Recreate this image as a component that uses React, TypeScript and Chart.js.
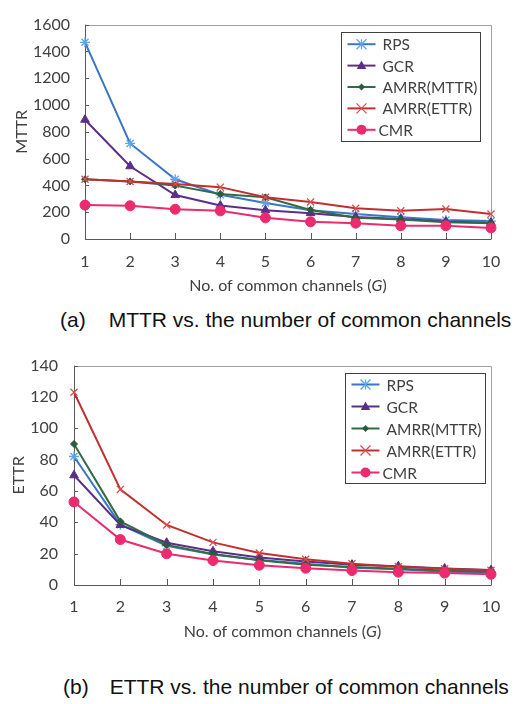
import React, { useEffect, useRef } from "react";
import { Chart, registerables } from "chart.js";

Chart.register(...registerables);

// ---------- data ----------
const CATEGORIES = ["1", "2", "3", "4", "5", "6", "7", "8", "9", "10"];
const SERIES_NAMES = ["RPS", "GCR", "AMRR(MTTR)", "AMRR(ETTR)", "CMR"];

const MTTR_RPS = [1468, 713, 446, 330, 269, 215, 186, 163, 142, 134];
const MTTR_GCR = [890, 543, 328, 250, 215, 193, 165, 150, 130, 122];
const MTTR_AMRR_MTTR = [446, 430, 399, 335, 311, 217, 158, 146, 125, 118];
const MTTR_AMRR_ETTR = [446, 430, 410, 387, 311, 276, 229, 210, 224, 186];
const MTTR_CMR = [253, 248, 222, 210, 158, 128, 118, 99, 99, 83];

const ETTR_RPS = [82, 38.5, 25, 19.5, 16, 13.5, 11, 10, 8.5, 8];
const ETTR_GCR = [70, 38.3, 27, 21.5, 17.5, 15, 13, 12, 10.5, 9.5];
const ETTR_AMRR_MTTR = [90, 40.6, 25.6, 19.8, 15.8, 12.9, 11.5, 10.3, 9.2, 8.5];
const ETTR_AMRR_ETTR = [123, 61, 38.3, 27.2, 20.4, 16.4, 13.6, 11.6, 10.3, 9.4];
const ETTR_CMR = [53, 29, 19.9, 15.6, 12.6, 10.7, 9.2, 8.2, 7.6, 6.8];

const MTTR_Y_MAX = 1600;
const MTTR_Y_STEP = 200;
const ETTR_Y_MAX = 140;
const ETTR_Y_STEP = 20;

const X_TITLE_MAIN = "No. of common channels (";
const X_TITLE_ITALIC = "G";
const X_TITLE_END = ")";

// ---------- styles ----------
const FONT = "Lato, 'Open Sans', sans-serif";
const TEXT_COLOR = "#404040";
const TICK_SIZE = 16;
const LEGEND_SIZE = 15.5;

const STYLES = [
  { line: "#3A76C4", point: "#5FA5E6", pointStyle: "star", radius: 5, fill: false, order: 4 },
  { line: "#5C2E88", point: "#5C2E88", pointStyle: "triangle", radius: 5, fill: true, order: 3 },
  { line: "#336B45", point: "#2C5A3A", pointStyle: "rectRot", radius: 3.5, fill: true, order: 2 },
  { line: "#C0302F", point: "#D9504E", pointStyle: "crossRot", radius: 5, fill: false, order: 1 },
  { line: "#EC2A6E", point: "#EC2A6E", pointStyle: "circle", radius: 5, fill: true, order: 0 },
];

function drawMarker(ctx: CanvasRenderingContext2D, style: string, r: number, x: number, y: number, color: string) {
  ctx.save();
  ctx.strokeStyle = color;
  ctx.fillStyle = color;
  ctx.lineWidth = 1.3;
  ctx.beginPath();
  if (style === "circle") {
    ctx.arc(x, y, r, 0, Math.PI * 2);
    ctx.fill();
  } else if (style === "triangle") {
    ctx.moveTo(x, y - r);
    ctx.lineTo(x + r * 0.95, y + r * 0.7);
    ctx.lineTo(x - r * 0.95, y + r * 0.7);
    ctx.closePath();
    ctx.fill();
  } else if (style === "rectRot") {
    ctx.moveTo(x, y - r);
    ctx.lineTo(x + r, y);
    ctx.lineTo(x, y + r);
    ctx.lineTo(x - r, y);
    ctx.closePath();
    ctx.fill();
  } else if (style === "crossRot") {
    ctx.moveTo(x - r, y - r);
    ctx.lineTo(x + r, y + r);
    ctx.moveTo(x + r, y - r);
    ctx.lineTo(x - r, y + r);
    ctx.stroke();
  } else if (style === "star") {
    ctx.moveTo(x - r, y - r);
    ctx.lineTo(x + r, y + r);
    ctx.moveTo(x + r, y - r);
    ctx.lineTo(x - r, y + r);
    ctx.moveTo(x, y - r);
    ctx.lineTo(x, y + r);
    ctx.stroke();
  }
  ctx.restore();
}

const framePlugin = {
  id: "frame",
  beforeDatasetsDraw(chart: any, _args: any, opts: any) {
    const { ctx, chartArea } = chart;
    const { left, right, top, bottom } = chartArea;
    ctx.save();
    ctx.lineWidth = 1;
    ctx.strokeStyle = "#a0a0a0";
    ctx.beginPath();
    ctx.moveTo(left, Math.round(top) + 0.5);
    ctx.lineTo(Math.round(right) + 0.5, Math.round(top) + 0.5);
    ctx.lineTo(Math.round(right) + 0.5, bottom);
    ctx.stroke();
    ctx.strokeStyle = "#595959";
    ctx.beginPath();
    ctx.moveTo(Math.round(left) + 0.5, top);
    ctx.lineTo(Math.round(left) + 0.5, Math.round(bottom) + 0.5);
    ctx.lineTo(Math.round(right) + 0.5, Math.round(bottom) + 0.5);
    ctx.stroke();
    const ys = chart.scales.y;
    ys.ticks.forEach((_t: any, i: number) => {
      const py = Math.round(ys.getPixelForTick(i)) + 0.5;
      ctx.beginPath();
      ctx.moveTo(left, py);
      ctx.lineTo(left + 4, py);
      ctx.stroke();
    });
    const xs = chart.scales.x;
    xs.ticks.forEach((_t: any, i: number) => {
      const px = Math.round(xs.getPixelForTick(i)) + 0.5;
      ctx.beginPath();
      ctx.moveTo(px, bottom);
      ctx.lineTo(px, bottom - 6);
      ctx.stroke();
    });
    ctx.fillStyle = TEXT_COLOR;
    ctx.textBaseline = "middle";
    ctx.textAlign = "center";
    const normal = `${TICK_SIZE}px ${FONT}`;
    const italic = `italic ${TICK_SIZE}px ${FONT}`;
    ctx.font = normal;
    ctx.save();
    ctx.translate(opts.yTitleX, (top + bottom) / 2);
    ctx.rotate(-Math.PI / 2);
    ctx.fillText(opts.yTitle, 0, 0);
    ctx.restore();

    ctx.font = normal;
    const w1 = ctx.measureText(X_TITLE_MAIN).width;
    const w3 = ctx.measureText(X_TITLE_END).width;
    ctx.font = italic;
    const w2 = ctx.measureText(X_TITLE_ITALIC).width;
    const total = w1 + w2 + w3;
    let x = (left + right) / 2 - total / 2;
    const y = bottom + opts.xTitleDy;
    ctx.textAlign = "left";
    ctx.font = normal;
    ctx.fillText(X_TITLE_MAIN, x, y);
    x += w1;
    ctx.font = italic;
    ctx.fillText(X_TITLE_ITALIC, x, y);
    x += w2;
    ctx.font = normal;
    ctx.fillText(X_TITLE_END, x, y);
    ctx.restore();
  },
  afterDraw(chart: any, _args: any, opts: any) {
    const { ctx, chartArea } = chart;
    const bx = Math.round(chartArea.right - opts.legendRight - opts.legendW) + 0.5;
    const by = Math.round(chartArea.top + opts.legendTop) + 0.5;
    ctx.save();
    ctx.fillStyle = "#ffffff";
    ctx.fillRect(bx, by, opts.legendW, opts.legendH);
    ctx.strokeStyle = "#404040";
    ctx.lineWidth = 1;
    ctx.strokeRect(bx, by, opts.legendW, opts.legendH);
    ctx.font = `${LEGEND_SIZE}px ${FONT}`;
    ctx.textBaseline = "middle";
    ctx.textAlign = "left";
    chart.data.datasets.forEach((ds: any, i: number) => {
      const st = STYLES[i];
      const cy = by + opts.rowStart + i * opts.rowGap;
      ctx.strokeStyle = st.line;
      ctx.lineWidth = 2;
      ctx.beginPath();
      ctx.moveTo(bx + opts.lineX1, cy);
      ctx.lineTo(bx + opts.lineX2, cy);
      ctx.stroke();
      drawMarker(ctx, st.pointStyle, st.radius, bx + (opts.lineX1 + opts.lineX2) / 2, cy, st.point);
      ctx.fillStyle = TEXT_COLOR;
      ctx.fillText(ds.label, bx + (i === 4 ? opts.textX - 4 : opts.textX), cy + 1);
    });
    ctx.restore();
  },
};

function makeDatasets(series: number[][]) {
  return series.map((data, i) => {
    const st = STYLES[i];
    return {
      label: SERIES_NAMES[i],
      data,
      borderColor: st.line,
      borderWidth: 2,
      backgroundColor: st.fill ? st.point : "rgba(0,0,0,0)",
      pointBorderColor: st.point,
      pointBackgroundColor: st.fill ? st.point : "rgba(0,0,0,0)",
      pointBorderWidth: st.fill ? 1 : 1.3,
      pointStyle: st.pointStyle,
      pointRadius: st.radius,
      tension: 0,
      order: st.order,
    };
  });
}

interface ChartProps {
  series: number[][];
  yMax: number;
  yStep: number;
  width: number;
  height: number;
  padTop: number;
  padRight: number;
  yWidth: number;
  xHeight: number;
  xPad: number;
  yPad: number;
  frame: any;
}

function LineChart(p: ChartProps) {
  const ref = useRef<HTMLCanvasElement>(null);
  useEffect(() => {
    if (!ref.current) return;
    const chart = new Chart(ref.current, {
      type: "line",
      data: { labels: CATEGORIES, datasets: makeDatasets(p.series) as any },
      plugins: [framePlugin as any],
      options: {
        animation: false,
        responsive: false,
        maintainAspectRatio: false,
        layout: { padding: { top: p.padTop, right: p.padRight, left: 0, bottom: 0 } },
        plugins: {
          legend: { display: false },
          tooltip: { enabled: false },
          frame: p.frame,
        } as any,
        scales: {
          x: {
            type: "category",
            offset: false,
            grid: { display: false, drawTicks: false },
            border: { display: false },
            ticks: { padding: p.xPad, color: TEXT_COLOR, font: { family: FONT, size: TICK_SIZE }, maxRotation: 0 },
            afterFit: (s: any) => {
              s.height = p.xHeight;
            },
          },
          y: {
            min: 0,
            max: p.yMax,
            grid: { display: false, drawTicks: false },
            border: { display: false },
            ticks: {
              stepSize: p.yStep,
              padding: p.yPad,
              color: TEXT_COLOR,
              font: { family: FONT, size: TICK_SIZE },
              callback: (v: any) => String(v),
            },
            afterFit: (s: any) => {
              s.width = p.yWidth;
            },
          },
        },
      },
    });
    return () => chart.destroy();
  }, []);
  return <canvas ref={ref} width={p.width} height={p.height} style={{ display: "block", width: p.width, height: p.height }} />;
}

const captionStyle: React.CSSProperties = {
  position: "absolute",
  fontFamily: "'Liberation Sans', Arial, sans-serif",
  fontSize: 21,
  lineHeight: "24px",
  whiteSpace: "nowrap",
  color: "#111",
};

export default function App() {
  return (
    <div style={{ position: "absolute", left: 0, top: 0, width: 524, height: 704, background: "#fff" }}>
      <div style={{ position: "absolute", left: 0, top: 0 }}>
        <LineChart
          series={[MTTR_RPS, MTTR_GCR, MTTR_AMRR_MTTR, MTTR_AMRR_ETTR, MTTR_CMR]}
          yMax={MTTR_Y_MAX}
          yStep={MTTR_Y_STEP}
          width={524}
          height={300}
          padTop={13}
          padRight={33}
          yWidth={85}
          xHeight={61}
          xPad={13}
          yPad={15}
          frame={{
            yTitle: "MTTR",
            yTitleX: 22,
            xTitleDy: 47,
            legendRight: 11,
            legendTop: 7,
            legendW: 139,
            legendH: 109,
            rowStart: 11.7,
            rowGap: 21.4,
            lineX1: 6,
            lineX2: 34,
            textX: 41,
          }}
        />
      </div>
      <div style={{ ...captionStyle, left: 60, top: 308 }}>
        <span>(a)</span>
        <span style={{ marginLeft: 23 }}>MTTR vs. the number of common channels</span>
      </div>
      <div style={{ position: "absolute", left: 0, top: 340 }}>
        <LineChart
          series={[ETTR_RPS, ETTR_GCR, ETTR_AMRR_MTTR, ETTR_AMRR_ETTR, ETTR_CMR]}
          yMax={ETTR_Y_MAX}
          yStep={ETTR_Y_STEP}
          width={524}
          height={310}
          padTop={17}
          padRight={33}
          yWidth={74}
          xHeight={65}
          xPad={12}
          yPad={16}
          frame={{
            yTitle: "ETTR",
            yTitleX: 19,
            xTitleDy: 47,
            legendRight: 6,
            legendTop: 7,
            legendW: 140,
            legendH: 110,
            rowStart: 11,
            rowGap: 22,
            lineX1: 6,
            lineX2: 34,
            textX: 41,
          }}
        />
      </div>
      <div style={{ ...captionStyle, left: 63, top: 675 }}>
        <span>(b)</span>
        <span style={{ marginLeft: 21 }}>ETTR vs. the number of common channels</span>
      </div>
    </div>
  );
}
